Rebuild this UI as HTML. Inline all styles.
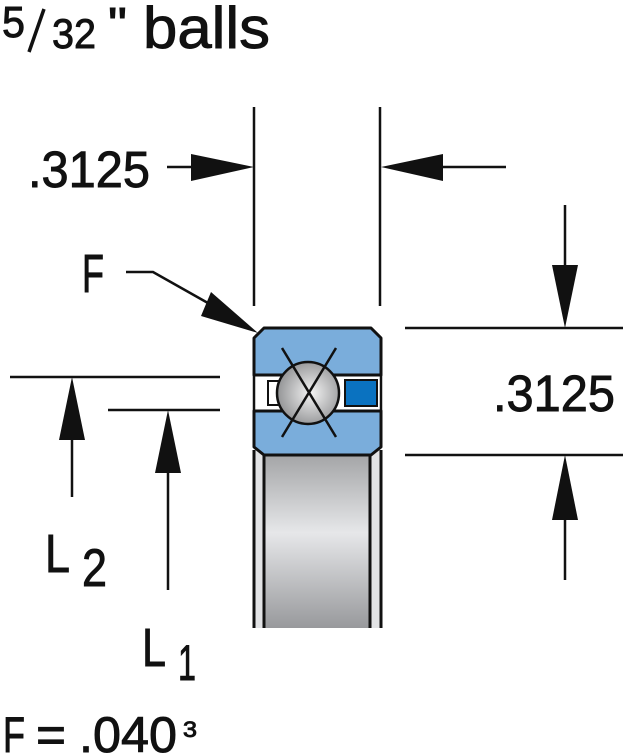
<!DOCTYPE html>
<html><head><meta charset="utf-8"><style>
html,body{margin:0;padding:0;background:#fff}
svg{display:block}
text{font-family:"Liberation Sans",sans-serif;fill:#111;stroke:#111;stroke-width:0.9}
</style></head><body>
<svg width="624" height="755" viewBox="0 0 624 755" xmlns="http://www.w3.org/2000/svg">
<defs>
<linearGradient id="g" x1="0" y1="0" x2="0" y2="1">
<stop offset="0" stop-color="#a4a5a7"/><stop offset="0.45" stop-color="#e6e7e9"/><stop offset="1" stop-color="#98999c"/>
</linearGradient>
<radialGradient id="b" cx="0.55" cy="0.5" r="0.6">
<stop offset="0" stop-color="#f4f4f4"/><stop offset="1" stop-color="#8a8b8d"/>
</radialGradient>
</defs>
<!-- title -->
<text x="2" y="37" font-size="44" textLength="23" lengthAdjust="spacingAndGlyphs">5</text>
<line x1="44" y1="9" x2="29" y2="52" stroke="#111" stroke-width="3.5"/>
<text x="52" y="48" font-size="42" textLength="44" lengthAdjust="spacingAndGlyphs">32</text>
<text x="108" y="40" font-size="46" textLength="19" lengthAdjust="spacingAndGlyphs">"</text>
<text x="143" y="48" font-size="58" textLength="127" lengthAdjust="spacingAndGlyphs">balls</text>
<!-- extension lines -->
<g stroke="#111" stroke-width="2.5" fill="none">
<line x1="254" y1="107" x2="254" y2="306"/>
<line x1="380" y1="107" x2="380" y2="306"/>
<line x1="167" y1="167" x2="195" y2="167"/>
<line x1="440" y1="167" x2="506" y2="167"/>
<polyline points="126,272 153,272 215,307"/>
<line x1="405" y1="328" x2="623" y2="328"/>
<line x1="405" y1="455" x2="623" y2="455"/>
<line x1="565" y1="205" x2="565" y2="270"/>
<line x1="565" y1="515" x2="565" y2="580"/>
<line x1="10" y1="377" x2="220" y2="377"/>
<line x1="108" y1="410" x2="220" y2="410"/>
<line x1="72" y1="437" x2="72" y2="497"/>
<line x1="168" y1="470" x2="168" y2="590"/>
</g>
<g fill="#111">
<polygon points="191,154 254,167 191,181"/>
<polygon points="443,154 381,167 443,181"/>
<polygon points="552,265 578,265 565,328"/>
<polygon points="552,520 578,520 565,455"/>
<polygon points="59,440 85,440 72,377"/>
<polygon points="155,473 181,473 168,410"/>
<polygon points="211,292 201,316 258,333"/>
</g>
<!-- bearing -->
<rect x="254" y="450" width="127" height="178" fill="#e2e3e5"/>
<rect x="264" y="455" width="106" height="173" fill="url(#g)"/>
<g stroke="#111" stroke-width="3" fill="none">
<line x1="254" y1="450" x2="254" y2="628"/>
<line x1="381" y1="450" x2="381" y2="628"/>
<line x1="264" y1="455" x2="264" y2="628"/>
<line x1="370" y1="455" x2="370" y2="628"/>
</g>
<rect x="254" y="375" width="127" height="36" fill="#fff" stroke="#111" stroke-width="2.5"/>
<rect x="268" y="381" width="14" height="24" fill="#fff" stroke="#111" stroke-width="2"/>
<rect x="345" y="380" width="32" height="26" fill="#0a72c0" stroke="#111" stroke-width="2"/>
<polygon points="264,328 371,328 381,338 381,375 254,375 254,338" fill="#7aaddb" stroke="#111" stroke-width="3" stroke-linejoin="round"/>
<polygon points="254,411 381,411 381,447 371,455 264,455 254,447" fill="#7aaddb" stroke="#111" stroke-width="3" stroke-linejoin="round"/>
<circle cx="308" cy="393" r="31" fill="url(#b)" stroke="#111" stroke-width="2.5"/>
<g stroke="#111" stroke-width="2.5">
<line x1="282" y1="348" x2="336" y2="437"/>
<line x1="336" y1="348" x2="282" y2="437"/>
</g>
<!-- labels -->
<text x="28" y="187" font-size="51" textLength="122" lengthAdjust="spacingAndGlyphs">.3125</text>
<text x="493" y="411" font-size="51" textLength="122" lengthAdjust="spacingAndGlyphs">.3125</text>
<text x="82" y="292" font-size="54" textLength="22" lengthAdjust="spacingAndGlyphs" stroke-width="1.8">F</text>
<text x="45" y="572" font-size="54" textLength="25" lengthAdjust="spacingAndGlyphs" stroke-width="1.8">L</text>
<text x="82" y="586" font-size="53" textLength="25" lengthAdjust="spacingAndGlyphs" stroke-width="1.4">2</text>
<text x="142" y="666" font-size="54" textLength="24" lengthAdjust="spacingAndGlyphs" stroke-width="1.8">L</text>
<text x="178" y="680" font-size="50" textLength="18" lengthAdjust="spacingAndGlyphs" stroke-width="1.8">1</text>
<text x="3" y="752" font-size="50" textLength="22" lengthAdjust="spacingAndGlyphs" stroke-width="1.8">F</text>
<text x="36" y="752" font-size="50" textLength="30" lengthAdjust="spacingAndGlyphs">=</text>
<text x="79" y="752" font-size="50" textLength="98" lengthAdjust="spacingAndGlyphs">.040</text>
<text x="183" y="737" font-size="22" textLength="14" lengthAdjust="spacingAndGlyphs">3</text>
</svg>
</body></html>
